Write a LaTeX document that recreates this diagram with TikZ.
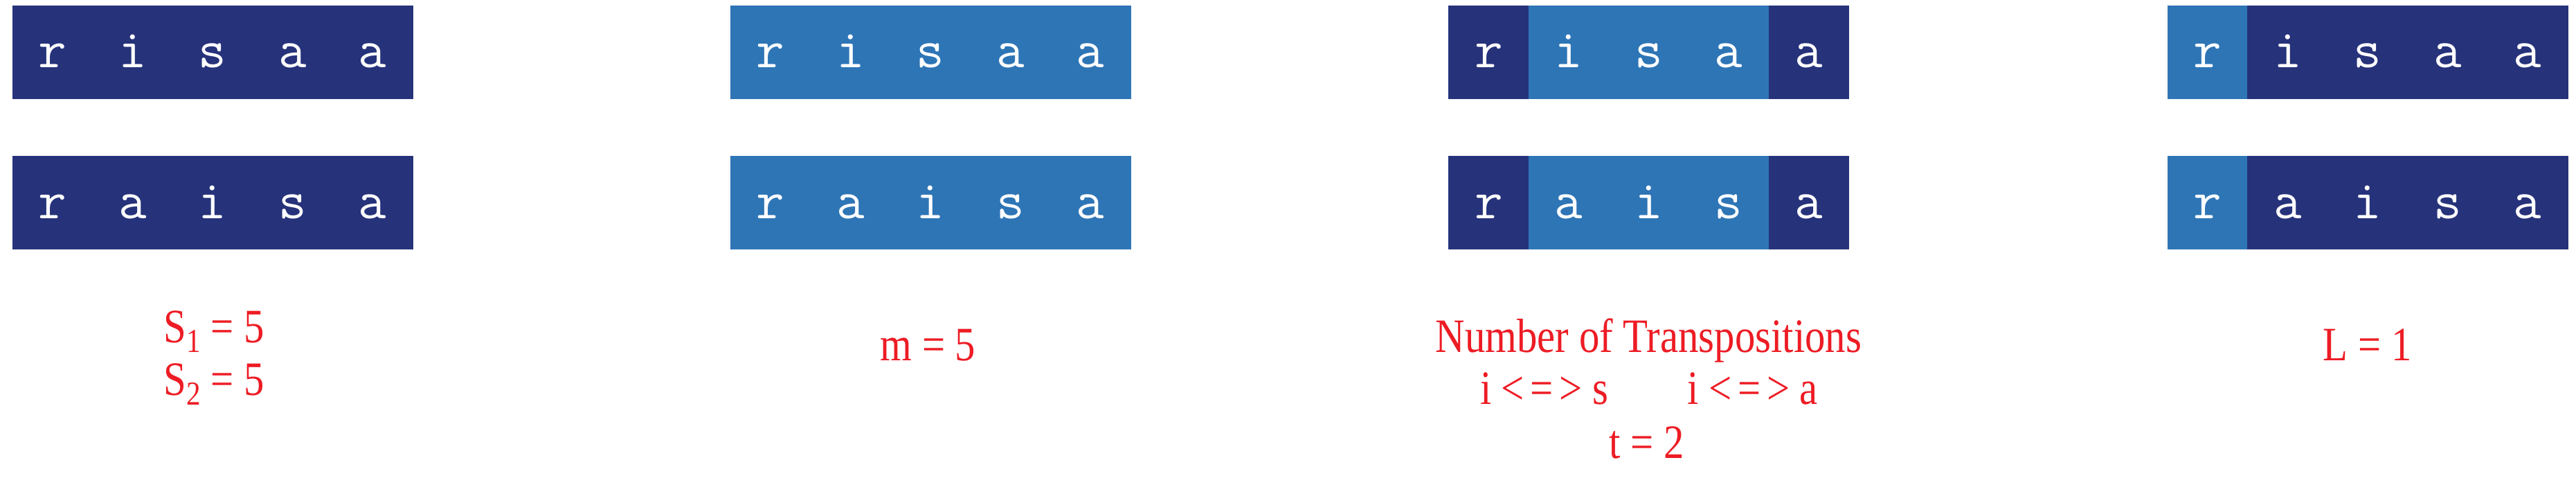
\documentclass[tikz,border=0pt]{standalone}
\usepackage{fontspec}
\setmainfont{Liberation Serif}[FakeStretch=0.85]
\usepackage{tikz}
\definecolor{Dfill}{RGB}{38,50,122}
\definecolor{Lfill}{RGB}{46,117,182}
\definecolor{Rtext}{RGB}{237,28,36}
\newcommand{\lowidx}[1]{\raisebox{-0.2em}{\fontsize{35}{35}\selectfont #1}}
\newcommand{\swapsym}{\hspace{0.14in}<\kern0.09in=\kern0.09in>\hspace{0.14in}}

\begin{document}
\begin{tikzpicture}[x=1in,y=1in,
  cell/.style={rectangle,inner sep=0pt,minimum width=1.156in,minimum height=1.34in,line width=0.4pt,text=white,text height=0.46in,text depth=0in,font=\ttfamily\fontsize{57}{57}\selectfont},
  dcell/.style={cell,fill=Dfill,draw=Dfill},
  lcell/.style={cell,fill=Lfill,draw=Lfill},
  note/.style={anchor=base,text=Rtext,inner sep=0pt,font=\fontsize{50}{60}\selectfont}]
\path[use as bounding box] (0,0) rectangle (37.21,7.13);
% panel 1: S1, S2
\node[dcell] (p1u1) at (0.758,6.380) {r};
\node[dcell] (p1u2) at (1.914,6.380) {i};
\node[dcell] (p1u3) at (3.070,6.380) {s};
\node[dcell] (p1u4) at (4.226,6.380) {a};
\node[dcell] (p1u5) at (5.382,6.380) {a};
\node[dcell] (p1l1) at (0.758,4.205) {r};
\node[dcell] (p1l2) at (1.914,4.205) {a};
\node[dcell] (p1l3) at (3.070,4.205) {i};
\node[dcell] (p1l4) at (4.226,4.205) {s};
\node[dcell] (p1l5) at (5.382,4.205) {a};
\node[note] (sone) at (3.095,2.180) {S\lowidx{1} = 5};
\node[note] (stwo) at (3.095,1.420) {S\lowidx{2} = 5};
% panel 2: m
\node[lcell] (p2u1) at (11.128,6.380) {r};
\node[lcell] (p2u2) at (12.284,6.380) {i};
\node[lcell] (p2u3) at (13.440,6.380) {s};
\node[lcell] (p2u4) at (14.596,6.380) {a};
\node[lcell] (p2u5) at (15.752,6.380) {a};
\node[lcell] (p2l1) at (11.128,4.205) {r};
\node[lcell] (p2l2) at (12.284,4.205) {a};
\node[lcell] (p2l3) at (13.440,4.205) {i};
\node[lcell] (p2l4) at (14.596,4.205) {s};
\node[lcell] (p2l5) at (15.752,4.205) {a};
\node[note] (mval) at (13.405,1.920) {m = 5};
% panel 3: t
\node[dcell] (p3u1) at (21.503,6.380) {r};
\node[lcell] (p3u2) at (22.659,6.380) {i};
\node[lcell] (p3u3) at (23.815,6.380) {s};
\node[lcell] (p3u4) at (24.971,6.380) {a};
\node[dcell] (p3u5) at (26.127,6.380) {a};
\node[dcell] (p3l1) at (21.503,4.205) {r};
\node[lcell] (p3l2) at (22.659,4.205) {a};
\node[lcell] (p3l3) at (23.815,4.205) {i};
\node[lcell] (p3l4) at (24.971,4.205) {s};
\node[dcell] (p3l5) at (26.127,4.205) {a};
\node[note] (ttitle) at (23.815,2.040) {Number of Transpositions};
\node[note] (tswap) at (23.820,1.290) {i\swapsym s\hspace{1.15in}i\swapsym a};
\node[note] (tval) at (23.790,0.510) {t = 2};
% panel 4: L
\node[lcell] (p4u1) at (31.888,6.380) {r};
\node[dcell] (p4u2) at (33.044,6.380) {i};
\node[dcell] (p4u3) at (34.200,6.380) {s};
\node[dcell] (p4u4) at (35.356,6.380) {a};
\node[dcell] (p4u5) at (36.512,6.380) {a};
\node[lcell] (p4l1) at (31.888,4.205) {r};
\node[dcell] (p4l2) at (33.044,4.205) {a};
\node[dcell] (p4l3) at (34.200,4.205) {i};
\node[dcell] (p4l4) at (35.356,4.205) {s};
\node[dcell] (p4l5) at (36.512,4.205) {a};
\node[note] (lval) at (34.195,1.920) {L = 1};
\end{tikzpicture}
\end{document}
